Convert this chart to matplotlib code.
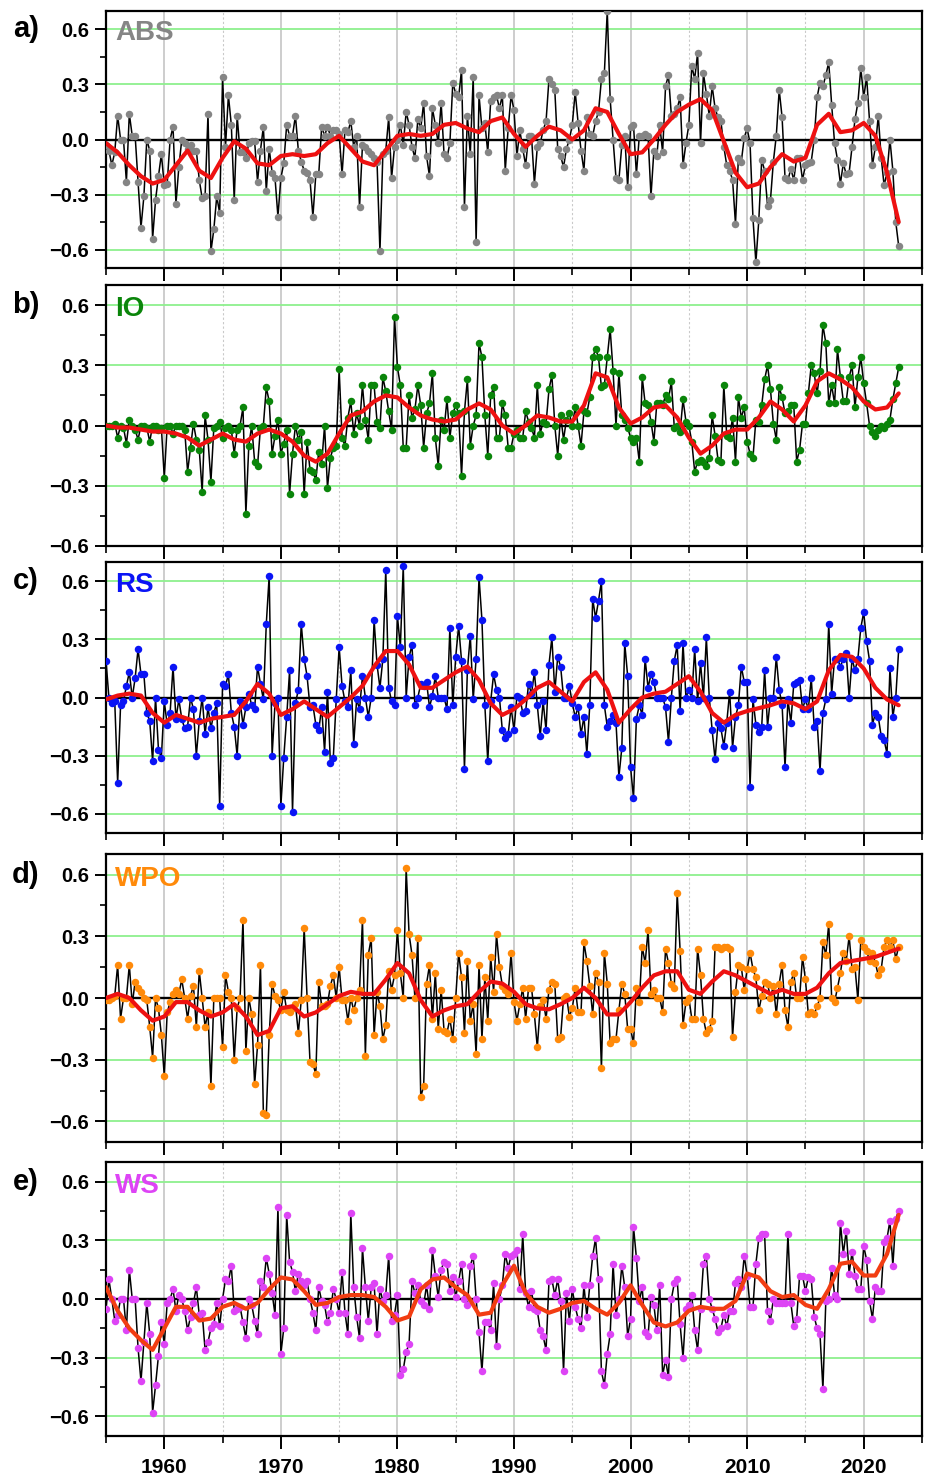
import numpy as np
import matplotlib
matplotlib.use('Agg')
from matplotlib import pyplot as plt
import matplotlib.ticker as tck
import matplotlib.transforms as mtrans

plt.rcParams['font.family'] = ['Liberation Sans', 'DejaVu Sans']
plt.rcParams['font.weight'] = 'bold'

# seasonal anomalies, 4 values per year from 1955.0, last value at 2023.0
abs_obs = [
    -0.03, -0.06, -0.14, -0.07,   0.13, 0.00, 0.00, -0.23,      # 1955-56
    0.14, 0.02, 0.02, -0.23,      -0.48, -0.31, 0.00, -0.06,    # 1957-58
    -0.54, -0.33, -0.20, -0.08,   -0.25, -0.24, 0.00, 0.07,     # 1959-60
    -0.35, -0.15, 0.00, -0.02,    -0.05, -0.03, -0.06, -0.06,   # 1961-62
    -0.22, -0.32, -0.31, 0.14,    -0.61, -0.49, -0.31, -0.40,   # 1963-64
    0.34, -0.04, 0.24, 0.08,      -0.33, 0.13, -0.07, -0.07,    # 1965-66
    -0.10, -0.02, -0.01, -0.01,   -0.23, -0.06, 0.07, -0.28,    # 1967-68
    -0.05, -0.18, -0.21, -0.42,   -0.21, -0.13, 0.08, 0.02,     # 1969-70
    0.02, 0.13, -0.06, -0.12,     -0.17, -0.18, -0.22, -0.42,   # 1971-72
    -0.19, -0.19, 0.07, 0.02,     0.07, 0.02, 0.05, 0.05,       # 1973-74
    0.03, -0.19, 0.05, 0.04,      0.10, -0.04, 0.02, -0.37,     # 1975-76
    -0.03, -0.04, -0.06, -0.08,   -0.10, -0.12, -0.61, -0.08,   # 1977-78
    -0.06, 0.12, -0.21, -0.04,    0.00, 0.08, -0.03, 0.15,      # 1979-80
    0.08, -0.04, -0.10, 0.11,     0.06, 0.20, -0.09, -0.20,     # 1981-82
    0.17, 0.08, -0.02, 0.20,      -0.08, -0.10, -0.02, 0.31,    # 1983-84
    0.25, 0.23, 0.38, -0.37,      0.13, -0.08, 0.34, -0.56,     # 1985-86
    0.24, 0.06, 0.09, -0.07,      0.21, 0.23, 0.24, 0.17,       # 1987-88
    0.24, -0.17, 0.06, 0.24,      0.16, -0.09, 0.05, -0.05,     # 1989-90
    -0.14, 0.02, 0.02, -0.24,     -0.04, -0.02, 0.05, 0.10,     # 1991-92
    0.33, 0.30, 0.27, -0.05,      -0.09, -0.15, -0.05, 0.00,    # 1993-94
    0.08, 0.26, 0.09, -0.06,      -0.17, 0.12, 0.03, 0.02,      # 1995-96
    0.10, 0.15, 0.33, 0.36,       0.70, 0.22, 0.00, -0.21,      # 1997-98
    -0.22, -0.03, 0.02, -0.26,    0.07, 0.08, -0.19, 0.02,      # 1999-00
    0.02, 0.03, 0.02, -0.31,      -0.06, -0.09, 0.08, -0.07,    # 2001-02
    0.29, 0.35, 0.13, 0.14,       0.17, 0.23, -0.14, -0.02,     # 2003-04
    0.08, 0.40, 0.33, 0.47,       -0.02, 0.36, 0.25, 0.13,      # 2005-06
    0.29, 0.17, 0.12, 0.10,       -0.04, -0.14, -0.17, -0.22,   # 2007-08
    -0.46, -0.10, -0.12, 0.01,    0.06, -0.02, -0.43, -0.67,    # 2009-10
    -0.44, -0.11, -0.17, -0.36,   -0.33, -0.12, 0.02, 0.27,     # 2011-12
    0.12, -0.21, -0.22, -0.16,    -0.22, -0.10, -0.10, -0.22,   # 2013-14
    -0.14, -0.13, -0.12, 0.00,    0.23, 0.31, 0.29, 0.35,       # 2015-16
    0.42, 0.19, -0.02, -0.11,     -0.24, -0.13, -0.19, -0.18,   # 2017-18
    -0.04, 0.11, 0.20, 0.39,      0.23, 0.34, 0.10, -0.14,      # 2019-20
    -0.04, 0.13, -0.10, -0.25,    -0.18, 0.00, -0.17, -0.45,    # 2021-22
    -0.58,
]

io_obs = [
    0.00, 0.00, 0.00, 0.01,       -0.06, 0.00, -0.01, -0.09,    # 1955-56
    0.03, 0.00, -0.02, -0.07,     0.00, 0.00, -0.01, -0.08,     # 1957-58
    0.00, 0.00, -0.02, -0.01,     -0.26, 0.00, 0.00, -0.04,     # 1959-60
    0.00, 0.00, 0.00, -0.02,      -0.23, -0.11, 0.01, -0.07,    # 1961-62
    -0.12, -0.33, 0.05, -0.07,    -0.28, -0.01, 0.00, 0.02,     # 1963-64
    -0.06, -0.01, 0.00, -0.02,    -0.14, -0.02, 0.00, 0.09,     # 1965-66
    -0.44, -0.10, 0.00, -0.18,    -0.20, -0.01, 0.00, 0.19,     # 1967-68
    0.12, -0.14, -0.05, 0.03,     -0.14, -0.09, -0.02, -0.34,   # 1969-70
    -0.14, 0.00, -0.07, -0.03,    -0.34, -0.08, -0.22, -0.23,   # 1971-72
    -0.27, -0.13, -0.19, 0.00,    -0.31, -0.16, -0.11, -0.10,   # 1973-74
    0.28, -0.06, -0.10, 0.04,     0.12, -0.04, 0.06, 0.00,      # 1975-76
    0.20, 0.03, -0.07, 0.20,      0.20, 0.02, -0.01, 0.24,      # 1977-78
    0.17, 0.07, -0.02, 0.54,      0.29, 0.20, -0.11, -0.11,     # 1979-80
    0.15, 0.04, 0.08, 0.20,       0.10, -0.11, 0.06, 0.11,      # 1981-82
    0.26, -0.06, -0.20, 0.03,     -0.02, 0.13, -0.06, 0.06,     # 1983-84
    0.10, 0.06, -0.25, 0.07,      0.23, -0.10, 0.00, 0.05,      # 1985-86
    0.41, 0.34, 0.05, -0.15,      0.15, 0.19, -0.06, -0.06,     # 1987-88
    0.11, 0.05, -0.11, -0.11,     -0.04, -0.02, -0.06, -0.06,   # 1989-90
    0.07, 0.02, -0.01, -0.06,     0.20, -0.04, 0.02, 0.01,      # 1991-92
    0.18, 0.25, 0.00, -0.15,      0.05, -0.07, 0.03, 0.06,      # 1993-94
    0.00, 0.09, 0.00, -0.10,      0.07, 0.06, 0.14, 0.34,       # 1995-96
    0.38, 0.34, 0.19, 0.20,       0.34, 0.48, 0.27, 0.00,       # 1997-98
    0.26, 0.05, 0.03, -0.01,      -0.06, -0.08, -0.06, -0.18,   # 1999-00
    0.24, 0.11, 0.10, 0.02,       -0.08, 0.11, 0.11, 0.10,      # 2001-02
    0.15, 0.13, 0.22, -0.01,      0.00, -0.03, 0.13, 0.02,      # 2003-04
    0.00, -0.08, -0.23, -0.18,    -0.17, -0.18, -0.20, -0.16,   # 2005-06
    0.05, -0.05, -0.17, -0.18,    0.20, -0.05, -0.06, 0.04,     # 2007-08
    -0.18, 0.14, 0.04, 0.09,      -0.08, -0.14, -0.16, 0.03,    # 2009-10
    0.02, 0.10, 0.23, 0.30,       0.18, 0.01, -0.07, 0.19,      # 2011-12
    0.14, 0.06, 0.07, 0.10,       0.10, -0.18, -0.12, 0.01,     # 2013-14
    0.01, 0.16, 0.30, 0.26,       0.16, 0.27, 0.50, 0.41,       # 2015-16
    0.11, 0.20, 0.11, 0.38,       0.24, 0.12, 0.12, 0.24,       # 2017-18
    0.30, 0.09, 0.24, 0.34,       0.21, 0.11, 0.00, -0.03,      # 2019-20
    -0.05, -0.02, 0.00, -0.01,    0.01, 0.03, 0.13, 0.21,       # 2021-22
    0.29,
]

rs_obs = [
    0.19, 0.00, -0.03, -0.02,     -0.44, -0.04, -0.02, 0.06,    # 1955-56
    0.13, 0.00, 0.10, 0.25,       0.12, 0.12, -0.08, -0.12,     # 1957-58
    -0.33, 0.00, -0.27, -0.31,    -0.02, -0.14, -0.08, 0.16,    # 1959-60
    -0.11, -0.01, -0.11, -0.16,   -0.15, 0.00, -0.06, -0.30,    # 1961-62
    -0.12, 0.00, -0.19, -0.05,    -0.16, -0.08, -0.03, -0.56,   # 1963-64
    0.07, 0.06, 0.12, -0.08,      -0.15, -0.30, -0.02, -0.14,   # 1965-66
    -0.05, 0.02, -0.04, -0.06,    0.16, 0.07, -0.01, 0.38,      # 1967-68
    0.63, -0.30, -0.03, 0.00,     -0.56, -0.31, -0.10, 0.14,    # 1969-70
    -0.59, -0.03, 0.04, 0.38,     0.20, 0.11, -0.05, -0.04,     # 1971-72
    -0.14, -0.17, -0.05, -0.28,   0.03, -0.34, -0.31, -0.01,    # 1973-74
    0.26, 0.06, -0.02, -0.05,     0.14, -0.24, -0.01, -0.06,    # 1975-76
    0.11, 0.00, -0.10, 0.00,      0.40, 0.17, 0.05, 0.20,       # 1977-78
    0.66, 0.05, -0.02, -0.04,     0.42, 0.26, 0.68, 0.00,       # 1979-80
    0.21, 0.27, -0.04, 0.00,      0.07, 0.06, 0.08, -0.05,      # 1981-82
    0.01, 0.11, 0.00, 0.00,       0.00, -0.06, 0.36, -0.04,     # 1983-84
    0.21, 0.37, 0.19, -0.37,      0.14, 0.32, -0.01, 0.20,      # 1985-86
    0.62, 0.40, -0.04, -0.33,     -0.02, 0.12, 0.04, 0.00,      # 1987-88
    -0.17, -0.21, -0.19, -0.05,   -0.17, 0.01, 0.00, -0.08,     # 1989-90
    -0.07, 0.07, 0.02, 0.13,      -0.04, -0.20, -0.02, -0.17,   # 1991-92
    0.17, 0.31, 0.03, 0.21,       0.16, 0.00, 0.00, 0.06,       # 1993-94
    -0.03, -0.10, -0.05, -0.19,   -0.10, -0.29, -0.04, 0.51,    # 1995-96
    0.41, 0.50, 0.60, -0.04,      -0.15, -0.12, -0.09, -0.13,   # 1997-98
    -0.41, -0.26, 0.28, 0.11,     -0.36, -0.52, -0.11, -0.04,   # 1999-00
    -0.09, 0.20, 0.05, 0.12,      0.08, 0.00, 0.00, 0.00,       # 2001-02
    -0.05, -0.23, 0.00, 0.19,     0.27, -0.07, 0.28, 0.00,      # 2003-04
    0.04, 0.00, 0.25, -0.02,      0.18, 0.00, 0.31, 0.00,       # 2005-06
    -0.17, -0.32, -0.13, -0.16,   -0.25, -0.13, 0.03, -0.26,    # 2007-08
    -0.10, -0.04, 0.16, 0.08,     0.08, -0.46, -0.01, -0.14,    # 2009-10
    -0.18, -0.15, 0.14, -0.15,    0.00, 0.00, 0.21, 0.04,       # 2011-12
    -0.04, -0.36, -0.01, -0.13,   0.07, 0.08, 0.09, -0.06,      # 2013-14
    -0.01, -0.06, 0.10, -0.15,    -0.12, -0.38, -0.08, -0.01,   # 2015-16
    0.38, 0.02, 0.20, 0.20,       0.16, 0.20, 0.23, 0.00,       # 2017-18
    0.20, 0.14, 0.20, 0.36,       0.44, 0.29, 0.19, -0.14,      # 2019-20
    -0.08, -0.10, -0.20, -0.22,   -0.29, 0.15, -0.10, 0.00,     # 2021-22
    0.25,
]

wpo_obs = [
    -0.01, -0.01, 0.00, 0.01,     0.16, -0.10, 0.00, 0.00,      # 1955-56
    0.16, -0.03, 0.08, 0.05,      0.03, 0.00, -0.01, -0.14,     # 1957-58
    -0.29, 0.00, -0.05, -0.18,    -0.38, -0.07, -0.02, 0.02,    # 1959-60
    0.04, 0.02, 0.09, 0.00,       -0.10, 0.01, 0.06, -0.14,     # 1961-62
    0.13, 0.00, -0.14, -0.07,     -0.43, 0.00, 0.00, 0.00,      # 1963-64
    -0.24, 0.11, 0.03, 0.00,      -0.30, -0.05, 0.00, 0.38,     # 1965-66
    -0.26, 0.00, -0.08, -0.42,    -0.23, 0.16, -0.56, -0.57,    # 1967-68
    -0.18, 0.07, 0.01, -0.01,     -0.06, 0.03, -0.06, -0.07,    # 1969-70
    -0.05, -0.03, -0.17, -0.01,   0.34, 0.00, -0.31, -0.32,     # 1971-72
    -0.37, 0.08, -0.04, -0.04,    -0.03, 0.06, 0.11, 0.00,      # 1973-74
    0.15, -0.01, -0.01, -0.11,    0.00, -0.06, 0.00, 0.04,      # 1975-76
    0.38, -0.28, 0.21, 0.29,      -0.18, 0.03, -0.04, -0.20,    # 1977-78
    -0.13, 0.13, 0.04, 0.11,      0.33, 0.12, 0.00, 0.63,       # 1979-80
    0.31, 0.21, 0.00, 0.29,       -0.48, -0.43, 0.07, 0.16,     # 1981-82
    -0.10, 0.12, -0.15, 0.04,     -0.16, -0.17, -0.10, -0.20,   # 1983-84
    0.00, 0.22, 0.10, -0.17,      0.18, -0.11, -0.03, -0.27,    # 1985-86
    0.16, -0.20, 0.10, -0.11,     0.20, 0.03, 0.31, 0.15,       # 1987-88
    0.06, 0.04, 0.02, 0.22,       -0.02, -0.11, -0.03, 0.05,    # 1989-90
    -0.10, 0.05, 0.05, -0.08,     -0.24, -0.04, -0.01, -0.10,   # 1991-92
    0.04, 0.08, 0.07, -0.20,      -0.19, 0.00, 0.01, -0.09,     # 1993-94
    -0.05, 0.05, -0.07, -0.07,    0.27, 0.18, 0.06, -0.08,      # 1995-96
    0.12, 0.08, -0.34, 0.22,      0.07, -0.22, -0.20, -0.20,    # 1997-98
    -0.06, 0.07, 0.02, -0.15,     -0.15, -0.22, 0.05, -0.02,    # 1999-00
    0.25, 0.17, 0.33, 0.02,       0.04, 0.00, 0.00, -0.07,      # 2001-02
    0.24, 0.17, 0.07, 0.05,       0.51, 0.23, -0.13, -0.02,     # 2003-04
    0.00, -0.10, -0.10, 0.24,     0.11, -0.10, -0.17, -0.15,    # 2005-06
    -0.11, 0.25, 0.25, 0.24,      0.25, 0.25, 0.24, -0.19,      # 2007-08
    0.03, 0.16, 0.15, 0.04,       0.14, 0.22, 0.14, 0.10,       # 2009-10
    -0.06, 0.01, 0.08, 0.07,      0.00, 0.06, -0.08, 0.07,      # 2011-12
    0.16, -0.06, -0.14, 0.08,     0.12, 0.00, 0.00, 0.20,       # 2013-14
    0.09, -0.08, -0.07, -0.08,    -0.04, 0.00, 0.27, 0.21,      # 2015-16
    0.36, 0.00, -0.02, 0.05,      0.12, 0.22, 0.18, 0.30,       # 2017-18
    0.14, 0.15, -0.01, 0.28,      0.25, 0.23, 0.18, 0.22,       # 2019-20
    0.17, 0.11, 0.14, 0.25,       0.28, 0.25, 0.28, 0.19,       # 2021-22
    0.25,
]

ws_obs = [
    -0.05, 0.10, 0.00, -0.11,     -0.08, 0.00, 0.00, -0.16,     # 1955-56
    0.15, 0.00, 0.00, -0.25,      -0.42, -0.22, -0.02, -0.18,   # 1957-58
    -0.58, -0.44, -0.29, -0.12,   -0.23, -0.02, 0.00, 0.05,     # 1959-60
    -0.06, 0.02, 0.00, -0.06,     -0.16, -0.09, -0.02, 0.06,    # 1961-62
    -0.08, -0.07, -0.26, -0.22,   -0.15, -0.13, -0.02, -0.14,   # 1963-64
    0.00, 0.10, 0.09, 0.17,       -0.06, -0.05, -0.04, -0.12,   # 1965-66
    -0.20, 0.00, -0.03, -0.11,    -0.18, 0.09, 0.06, 0.21,      # 1967-68
    0.13, 0.03, -0.08, 0.47,      -0.28, -0.15, 0.43, 0.19,     # 1969-70
    0.14, 0.04, 0.13, 0.09,       0.07, 0.09, 0.00, -0.07,      # 1971-72
    -0.16, 0.06, -0.01, -0.03,    -0.12, -0.07, 0.05, 0.00,     # 1973-74
    -0.07, 0.14, -0.07, -0.18,    0.44, 0.06, -0.09, -0.20,     # 1975-76
    0.26, 0.06, -0.11, 0.06,      0.08, -0.18, 0.05, -0.01,     # 1977-78
    0.02, 0.22, -0.11, -0.08,     0.02, -0.39, -0.36, -0.27,    # 1979-80
    -0.23, 0.09, 0.03, 0.07,      -0.01, -0.03, 0.07, -0.05,    # 1981-82
    0.25, 0.12, 0.01, 0.15,       0.19, 0.18, 0.04, 0.11,       # 1983-84
    0.01, 0.09, 0.18, 0.00,       -0.03, 0.17, 0.22, 0.00,      # 1985-86
    -0.17, -0.37, -0.12, -0.12,   -0.16, 0.08, -0.24, 0.00,     # 1987-88
    0.07, 0.23, 0.16, 0.22,       0.23, 0.25, 0.05, 0.33,       # 1989-90
    0.03, -0.04, 0.04, -0.05,     -0.06, -0.16, -0.19, -0.26,   # 1991-92
    0.09, 0.10, 0.02, 0.10,       -0.01, -0.37, 0.03, -0.11,    # 1993-94
    0.05, -0.04, -0.10, -0.15,    0.07, -0.09, 0.07, 0.22,      # 1995-96
    0.31, 0.10, -0.37, -0.44,     -0.28, -0.18, 0.18, -0.08,    # 1997-98
    0.00, 0.17, 0.06, -0.19,      -0.10, 0.37, 0.21, -0.01,     # 1999-00
    0.06, -0.17, -0.19, 0.01,     -0.03, -0.16, 0.07, -0.39,    # 2001-02
    -0.31, -0.40, 0.00, 0.08,     0.10, -0.13, -0.30, -0.05,    # 2003-04
    -0.03, 0.02, -0.16, -0.26,    -0.05, 0.18, 0.22, 0.00,      # 2005-06
    -0.05, -0.10, -0.17, -0.15,   -0.08, -0.14, -0.06, -0.06,   # 2007-08
    0.08, 0.10, 0.06, 0.22,       0.12, -0.04, -0.04, 0.18,     # 2009-10
    0.31, 0.33, 0.33, -0.06,      -0.11, 0.00, -0.02, -0.02,    # 2011-12
    -0.02, -0.02, 0.33, -0.02,    -0.14, -0.10, 0.12, 0.12,     # 2013-14
    0.04, 0.11, 0.10, -0.09,      -0.15, -0.18, -0.46, -0.01,   # 2015-16
    0.00, 0.16, 0.02, 0.00,       0.39, 0.23, 0.35, 0.13,       # 2017-18
    0.24, 0.12, 0.05, 0.05,       0.27, 0.20, -0.01, -0.10,     # 2019-20
    0.06, 0.04, 0.04, 0.29,       0.31, 0.40, 0.17, 0.41,       # 2021-22
    0.45,
]

# smoothed curves, one value per year 1955..2023
abs_fit = [-0.02, -0.07, -0.14, -0.20, -0.24, -0.22, -0.14, -0.06, -0.17, -0.21,
           -0.10, -0.01, -0.05, -0.13, -0.14, -0.09, -0.08, -0.09, -0.08, -0.02,
           0.02, -0.05, -0.12, -0.14, -0.06, 0.02, 0.03, 0.02, 0.03, 0.08,
           0.09, 0.06, 0.04, 0.10, 0.12, 0.03, -0.04, 0.02, 0.07, 0.05,
           0.00, 0.05, 0.17, 0.15, 0.03, -0.08, -0.07, 0.00, 0.08, 0.15,
           0.19, 0.22, 0.16, -0.01, -0.18, -0.26, -0.24, -0.15, -0.08, -0.12,
           -0.10, 0.08, 0.14, 0.04, 0.05, 0.09, 0.02, -0.18, -0.45]
io_fit = [0.00, -0.01, -0.01, -0.02, -0.03, -0.03, -0.04, -0.06, -0.10, -0.07,
          -0.04, -0.07, -0.08, -0.04, -0.02, -0.04, -0.08, -0.15, -0.18, -0.14,
          -0.04, 0.05, 0.07, 0.12, 0.15, 0.14, 0.09, 0.05, 0.03, 0.02,
          0.03, 0.08, 0.11, 0.08, 0.00, -0.04, 0.00, 0.05, 0.04, 0.02,
          0.02, 0.10, 0.26, 0.24, 0.09, 0.01, 0.04, 0.09, 0.10, 0.04,
          -0.06, -0.14, -0.10, -0.04, -0.02, -0.02, 0.04, 0.12, 0.08, 0.02,
          0.10, 0.22, 0.26, 0.23, 0.19, 0.12, 0.08, 0.09, 0.16]
rs_fit = [-0.01, 0.01, 0.02, 0.01, -0.08, -0.13, -0.09, -0.11, -0.13, -0.11,
          -0.10, -0.09, -0.02, 0.07, 0.02, -0.09, -0.06, -0.02, -0.06, -0.10,
          -0.05, 0.00, 0.06, 0.16, 0.24, 0.24, 0.17, 0.05, 0.05, 0.09,
          0.13, 0.16, 0.09, -0.03, -0.09, -0.06, -0.01, 0.05, 0.08, 0.03,
          -0.02, 0.08, 0.13, 0.04, -0.13, -0.06, 0.00, 0.02, 0.03, 0.07,
          0.11, 0.03, -0.08, -0.13, -0.09, -0.07, -0.055, -0.04, -0.02, -0.03,
          -0.06, -0.02, 0.14, 0.22, 0.21, 0.15, 0.05, -0.01, -0.04]
wpo_fit = [0.00, 0.02, 0.00, -0.06, -0.11, -0.09, -0.02, -0.02, -0.06, -0.09,
           -0.07, -0.03, -0.09, -0.18, -0.16, -0.05, -0.04, -0.09, -0.07, -0.03,
           0.01, 0.03, 0.02, 0.02, 0.09, 0.17, 0.12, -0.01, -0.09, -0.06,
           -0.04, -0.03, 0.03, 0.08, 0.07, 0.03, -0.03, -0.05, -0.055, -0.03,
           0.00, 0.05, 0.00, -0.08, -0.08, -0.02, 0.05, 0.11, 0.13, 0.13,
           0.04, 0.02, 0.08, 0.13, 0.11, 0.08, 0.05, 0.02, 0.04, 0.02,
           0.02, 0.05, 0.12, 0.17, 0.18, 0.19, 0.20, 0.22, 0.24]
ws_fit = [0.06, -0.06, -0.15, -0.21, -0.26, -0.15, -0.04, -0.04, -0.11, -0.10,
          -0.04, -0.02, -0.05, -0.02, 0.05, 0.11, 0.10, 0.04, -0.03, -0.02,
          0.01, 0.02, 0.02, 0.01, -0.04, -0.11, -0.09, 0.05, 0.10, 0.11,
          0.06, 0.02, -0.08, -0.07, 0.07, 0.17, 0.03, -0.04, -0.07, -0.05,
          -0.02, -0.01, -0.05, -0.08, -0.02, 0.07, -0.03, -0.12, -0.14, -0.12,
          -0.06, -0.04, -0.05, -0.05, -0.01, 0.13, 0.11, 0.04, 0.01, 0.02,
          -0.03, -0.05, 0.05, 0.18, 0.19, 0.12, 0.12, 0.23, 0.43]

letters = ['a)', 'b)', 'c)', 'd)', 'e)']
names = ['ABS', 'IO', 'RS', 'WPO', 'WS']
dot_colors = ['#858585', '#0a850a', '#0a14f5', '#ff8a0a', '#dd44f5']
fit_colors = ['#ee1111', '#ee1111', '#ee1111', '#ee1111', '#f23d12']
lower_lims = [-0.7, -0.6, -0.7, -0.7, -0.7]
obs_all = [abs_obs, io_obs, rs_obs, wpo_obs, ws_obs]
fit_all = [abs_fit, io_fit, rs_fit, wpo_fit, ws_fit]

# panel top / bottom in pixels (figure 926 x 1480)
W, H = 926, 1480
x0, x1 = 106, 922
rows = [(11, 268), (285, 546), (562, 833), (854, 1142), (1162, 1436)]

fig = plt.figure(figsize=(W / 100, H / 100), dpi=100)


def draw_panel(ax, obs, fit, dcol, fcol, name, letter, ylo, last):
    t = 1955 + 0.25 * np.arange(len(obs))
    ty = 1955 + np.arange(len(fit))

    for yr in range(1960, 2021, 10):
        ax.axvline(yr, color='#c9c9c9', lw=1.3, zorder=0)
    for yr in range(1965, 2021, 10):
        ax.axvline(yr, color='#c9c9c9', lw=0.8, ls=(0, (2, 2)), zorder=0)
    for v in (-0.6, -0.3, 0.3, 0.6):
        ax.axhline(v, color='#8ef08e', lw=1.3, zorder=0)
    ax.axhline(0, color='black', lw=1.7, zorder=1)

    ax.plot(t, obs, '-', color='black', lw=1.1, zorder=2)
    ax.plot(t, obs, 'o', color=dcol, ms=5.4, mec='none', zorder=3)
    ax.plot(ty, fit, '-', color=fcol, lw=3.0, zorder=4,
            solid_capstyle='round', solid_joinstyle='round')

    ax.set_xlim(1955, 2025)
    ax.set_ylim(ylo, 0.7)
    ax.xaxis.set_major_locator(tck.MultipleLocator(10))
    ax.xaxis.set_minor_locator(tck.MultipleLocator(5))
    ax.yaxis.set_major_locator(tck.MultipleLocator(0.3))
    ax.yaxis.set_minor_locator(tck.MultipleLocator(0.15))
    ax.tick_params(axis='y', which='major', direction='out', length=8, width=1.4,
                   labelsize=14.5, pad=4)
    ax.tick_params(axis='y', which='minor', direction='out', length=4, width=1.2)
    ax.tick_params(axis='x', which='major', direction='out', length=9, width=1.4,
                   labelsize=15, pad=7, labelbottom=last)
    ax.tick_params(axis='x', which='minor', direction='out', length=5, width=1.2)
    for lab in ax.get_yticklabels() + ax.get_xticklabels():
        lab.set_fontweight('bold')
    for sp in ax.spines.values():
        sp.set_linewidth(1.6)

    ax.annotate(name, xy=(0, 0.6), xycoords=('axes fraction', 'data'),
                xytext=(6.5, -8), textcoords='offset points',
                ha='left', va='baseline', fontsize=20, fontweight='bold',
                color=dcol, zorder=6)
    trans = mtrans.blended_transform_factory(fig.transFigure, ax.transData)
    ax.text(26 / W, 0.6, letter, transform=trans, ha='center', va='center',
            fontsize=21, fontweight='bold', color='black')


for i, (top, bot) in enumerate(rows):
    ax = fig.add_axes([x0 / W, 1 - bot / H, (x1 - x0) / W, (bot - top) / H])
    draw_panel(ax, obs_all[i], fit_all[i], dot_colors[i], fit_colors[i],
               names[i], letters[i], lower_lims[i], i == len(rows) - 1)

fig.savefig('out.png', dpi=100)
